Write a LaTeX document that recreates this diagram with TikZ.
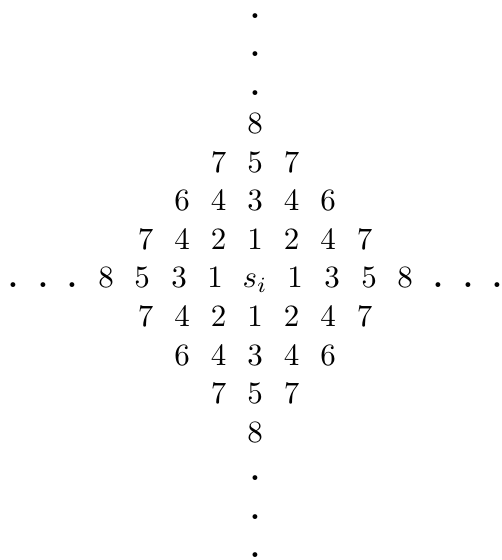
\documentclass[tikz,border=0pt]{standalone}
\usepackage{tikz}
\tikzset{entry/.style={anchor=base, inner sep=0pt},
dotmark/.style={anchor=base, inner sep=0pt, font=\bfseries}}

\begin{document}
\begin{tikzpicture}[x=0.3226pt, y=-0.3226pt]
  \useasboundingbox (0,0) rectangle (501,560);
  % middle row
  \foreach \x/\t [count=\i] in {106/8, 142/5, 179/3, 215/1, 255/$s_i$, 295/1, 332/3, 369/5, 405/8}
    \node[entry] (mid\i) at (\x,288) {\t};
  \foreach \x [count=\i] in {13,43,72,438,468,497}
    \node[dotmark] (hdot\i) at (\x,288) {.};
  % rows above and below
  \foreach \s/\side in {-1/up,1/dn} {
    \foreach \c/\v in {-3/7,-2/4,-1/2,0/1,1/2,2/4,3/7}
      \node[entry] (\side a\c) at ({255+36.5*\c},{288+38.5*\s}) {\v};
    \foreach \c/\v in {-2/6,-1/4,0/3,1/4,2/6}
      \node[entry] (\side b\c) at ({255+36.5*\c},{288+77*\s}) {\v};
    \foreach \c/\v in {-1/7,0/5,1/7}
      \node[entry] (\side c\c) at ({255+36.5*\c},{288+115.5*\s}) {\v};
    \node[entry] (\side d) at (255,{288+154*\s}) {8};
    % dots
    \foreach \r in {5,6,7}
      \node[dotmark] (\side dot\r) at (255,{288+38.5*\r*\s}) {.};
  }
\end{tikzpicture}
\end{document}
